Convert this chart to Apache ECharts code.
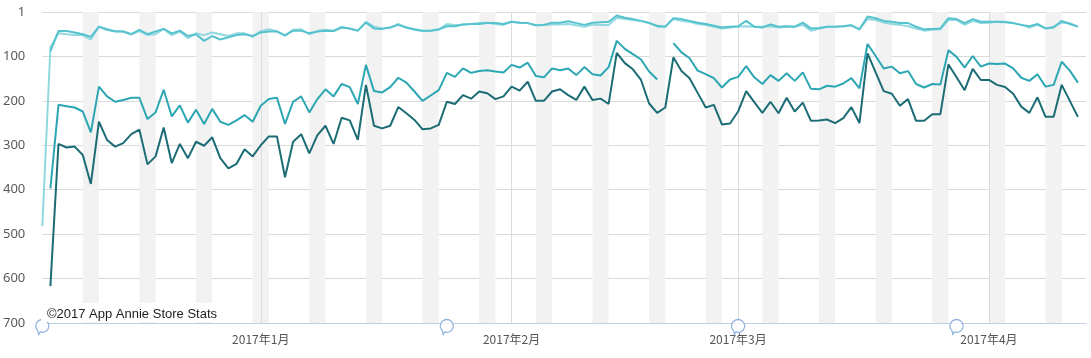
<!DOCTYPE html>
<html><head><meta charset="utf-8">
<script src="https://cdn.jsdelivr.net/npm/echarts@6/dist/echarts.min.js"></script>
<style>html,body{margin:0;padding:0;background:#fff}#c{width:1091px;height:358px}</style>
</head><body><div id="c"></div>
<script>
// Daily ranks, Dec 5 2016 .. Apr 12 2017 (129 days)
const startDate = [2016, 11, 5];
const rankLight1 = [
  null, 88, 43, 43, 46, 50, 56, 33, 40, 44,
  44, 50, 40, 50, 44, 38, 48, 42, 54, 50,
  65, 54, 62, 57, 52, 50, 54, 46, 44, 44,
  52, 42, 42, 48, 44, 42, 43, 35, 37, 42,
  24, 37, 38, 35, 29, 35, 39, 42, 42, 39,
  32, 32, 28, 27, 27, 25, 25, 27, 22, 24,
  25, 30, 29, 24, 24, 21, 25, 29, 24, 23,
  22, 8, 13, 16, 20, 25, 31, 33, 14, 16,
  20, 24, 27, 31, 35, 33, 32, 20, 33, 35,
  28, 33, 32, 33, 24, 37, 36, 33, 33, 32,
  30, 39, 10, 14, 20, 22, 25, 25, 33, 39,
  38, 37, 14, 16, 25, 16, 22, 22, 22, 23,
  25, 29, 32, 27, 37, 35, 20, 27, 33
];
const rankLight2 = [
  482, 80, 48, 50, 52, 52, 62, 33, 38, 43,
  44, 50, 43, 52, 50, 38, 52, 44, 59, 48,
  52, 46, 50, 54, 48, 48, 56, 43, 39, 43,
  54, 40, 39, 50, 43, 40, 42, 33, 38, 42,
  22, 33, 37, 35, 27, 35, 40, 43, 42, 40,
  27, 30, 28, 27, 25, 24, 27, 29, 22, 24,
  25, 30, 29, 28, 28, 27, 30, 33, 28, 29,
  29, 13, 16, 18, 20, 24, 33, 33, 16, 20,
  22, 27, 29, 33, 37, 35, 33, 32, 33, 33,
  32, 35, 33, 33, 29, 42, 38, 33, 33, 32,
  30, 39, 16, 18, 24, 27, 29, 32, 37, 42,
  40, 39, 18, 18, 29, 20, 25, 24, 22, 22,
  25, 29, 35, 29, 37, 33, 24, 25, 33
];
const rankMedium = [
  null, 397, 209, 212, 215, 224, 271, 168, 190, 202,
  198, 193, 193, 241, 226, 175, 235, 210, 249, 220,
  252, 218, 247, 254, 244, 232, 247, 211, 196, 193,
  252, 202, 190, 226, 196, 174, 190, 162, 169, 207,
  119, 178, 181, 169, 148, 159, 179, 200, 188, 176,
  137, 146, 127, 137, 133, 131, 134, 136, 119, 125,
  114, 144, 147, 127, 131, 127, 142, 124, 140, 143,
  124, 65, 83, 95, 107, 134, 152, null, 70, 91,
  104, 132, 140, 149, 170, 152, 146, 122, 147, 162,
  142, 155, 138, 155, 136, 173, 174, 166, 168, 161,
  149, 172, 72, 99, 127, 123, 138, 133, 162, 170,
  162, 163, 86, 101, 125, 99, 123, 116, 117, 116,
  127, 148, 155, 140, 168, 164, 112, 132, 159
];
const rankDark = [
  null, 617, 297, 305, 303, 322, 387, 247, 288, 303,
  295, 275, 265, 343, 325, 260, 340, 297, 329, 292,
  301, 282, 329, 352, 342, 309, 325, 300, 280, 280,
  372, 292, 275, 318, 277, 256, 297, 238, 244, 288,
  164, 256, 262, 256, 214, 228, 243, 264, 262, 254,
  202, 207, 187, 195, 179, 183, 196, 190, 168, 177,
  157, 200, 200, 179, 174, 187, 198, 168, 198, 195,
  207, 92, 115, 129, 153, 206, 227, 215, 102, 133,
  149, 182, 215, 209, 253, 251, 224, 178, 203, 227,
  202, 228, 193, 224, 204, 245, 244, 242, 250, 239,
  214, 250, 93, 136, 178, 184, 211, 196, 245, 245,
  230, 230, 118, 147, 176, 128, 153, 153, 164, 169,
  184, 213, 227, 192, 236, 236, 164, 200, 236
];
const weekendStarts = ['2016-12-10','2016-12-17','2016-12-24','2016-12-31','2017-01-07','2017-01-14',
  '2017-01-21','2017-01-28','2017-02-04','2017-02-11','2017-02-18','2017-02-25','2017-03-04',
  '2017-03-11','2017-03-18','2017-03-25','2017-04-01','2017-04-08'];
const monthStarts = ['2017-01-01','2017-02-01','2017-03-01','2017-04-01'];
const noteDates = ['2016-12-05','2017-01-24','2017-03-01','2017-03-28'];

function ts(s) { const p = s.split('-').map(Number); return new Date(p[0], p[1]-1, p[2]).getTime(); }
function dayTs(i) { return new Date(startDate[0], startDate[1], startDate[2] + i).getTime(); }
function pairs(arr) { return arr.map((v, i) => [dayTs(i), v]); }

const chart = echarts.init(document.getElementById('c'), null, {renderer: 'canvas'});
const DAY = 86400000;
const bubble = 'path://M8.92,19.46 A9,9 0 1 0 5.64,17.36 L7,23 Z';

chart.setOption({
  animation: false,
  grid: {left: 41, right: 5, top: 12, bottom: 35, containLabel: false},
  xAxis: {
    type: 'value',
    min: dayTs(0), max: dayTs(129), scale: true,
    axisLine: {onZero: false, lineStyle: {color: '#c0d0e0', width: 1}},
    axisTick: {show: false},
    splitLine: {show: false},
    axisLabel: {
      customValues: monthStarts.map(ts),
      color: '#555', fontSize: 12, margin: 10, fontFamily: 'Noto Sans CJK SC',
      formatter: v => { const d = new Date(v); return d.getFullYear() + '年' + (d.getMonth()+1) + '月'; }
    }
  },
  yAxis: {
    type: 'value', inverse: true, min: 0, max: 700, interval: 100,
    axisLine: {show: false}, axisTick: {show: false},
    splitLine: {lineStyle: {color: '#d9d9d9', width: 1}},
    axisLabel: {color: '#5a5a5a', fontSize: 13, margin: 17, fontFamily: 'Noto Sans',
      formatter: v => v === 0 ? '1' : String(v)}
  },
  graphic: [
    {type: 'rect', z: 100, shape: {x: 41, y: 303, width: 182, height: 19}, style: {fill: 'rgba(255,255,255,0.95)'}},
    {type: 'text', z: 101, x: 47, y: 314, style: {text: '©2017 App Annie Store Stats', fill: '#222',
      font: '13px "Liberation Sans"', verticalAlign: 'middle'}}
  ],
  series: [
    {
      name: 'dark', type: 'line', data: pairs(rankDark), showSymbol: false, symbol: 'none',
      lineStyle: {color: '#1c6c75', width: 2}, connectNulls: false, z: 5,
      markArea: {silent: true, z: 1, itemStyle: {color: '#f2f2f2'},
        data: weekendStarts.map(s => [{xAxis: ts(s)}, {xAxis: ts(s) + 2*DAY}])},
      markLine: {silent: true, z: 2, symbol: 'none', label: {show: false},
        lineStyle: {color: '#dcdcdc', width: 1, type: 'solid'},
        data: monthStarts.map(s => ({xAxis: ts(s)}))}
    },
    {name: 'medium', type: 'line', data: pairs(rankMedium), symbol: 'none', connectNulls: false, z: 6,
      lineStyle: {color: '#2ba6b2', width: 2}},
    {name: 'light2', type: 'line', data: pairs(rankLight2), symbol: 'none', z: 7,
      lineStyle: {color: '#92d8e0', width: 2}},
    {name: 'light1', type: 'line', data: pairs(rankLight1), symbol: 'none', z: 8,
      lineStyle: {color: '#56c2cd', width: 2}},
    {name: 'notes', type: 'scatter', data: noteDates.map(s => [ts(s), 700]), clip: false, z: 20,
      symbol: bubble, symbolSize: [13, 15], symbolOffset: [0, 4],
      itemStyle: {color: '#ffffff', borderColor: '#6f9bd3', borderWidth: 1.2}, silent: true}
  ]
});
</script></body></html>
